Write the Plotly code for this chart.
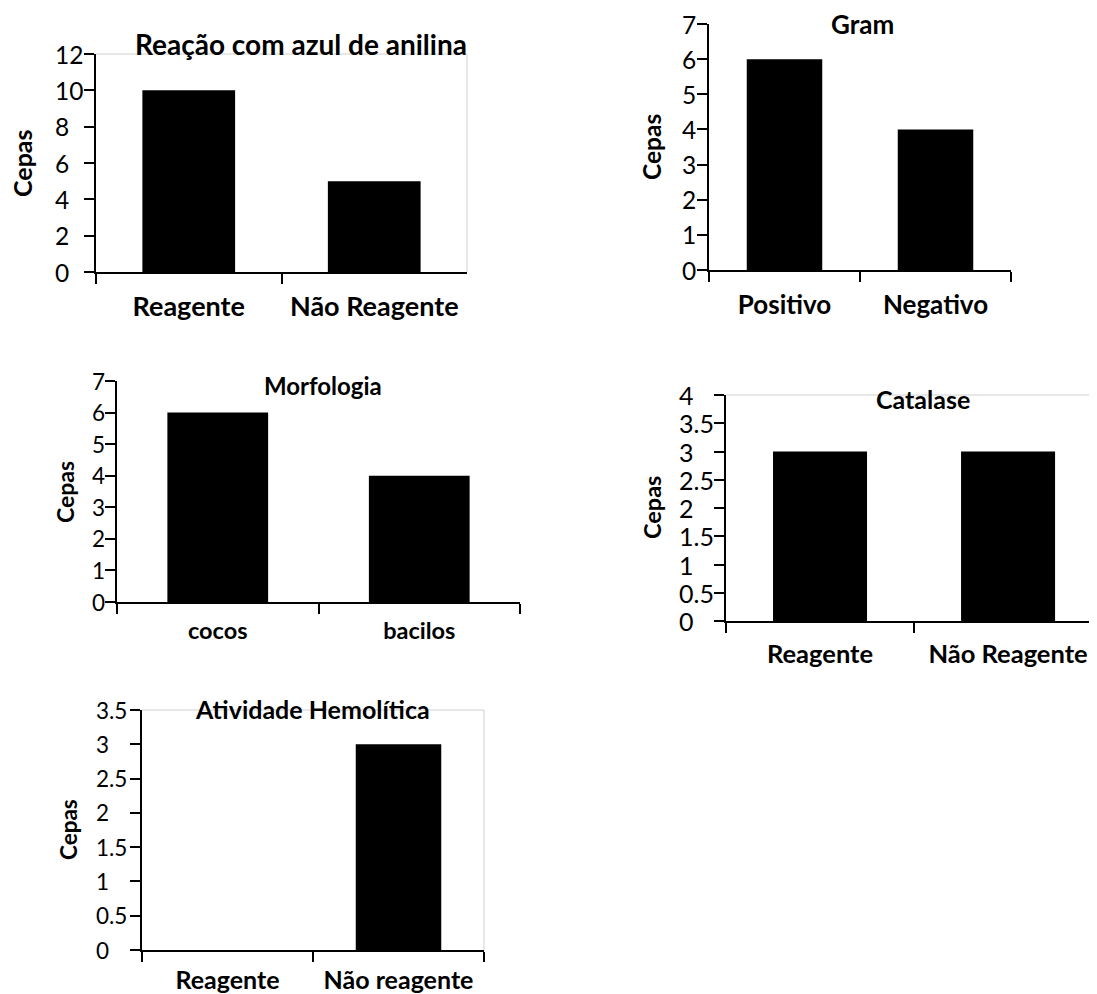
import plotly.graph_objects as go

# page body has an 8px margin; the figure fills the rest of the 1097x994 window
OFF = 8
W, H = 1097 - OFF, 994 - OFF

# ---- data ----
titles = ["Reação com azul de anilina", "Gram", "Morfologia", "Catalase", "Atividade Hemolítica"]
cat_anilina = ["Reagente", "Não Reagente"]
val_anilina = [10, 5]
ticks_anilina = [0, 2, 4, 6, 8, 10, 12]
cat_gram = ["Positivo", "Negativo"]
val_gram = [6, 4]
ticks_gram = [0, 1, 2, 3, 4, 5, 6, 7]
cat_morf = ["cocos", "bacilos"]
val_morf = [6, 4]
ticks_morf = [0, 1, 2, 3, 4, 5, 6, 7]
cat_catalase = ["Reagente", "Não Reagente"]
val_catalase = [3, 3]
ticks_catalase = [0, 0.5, 1, 1.5, 2, 2.5, 3, 3.5, 4]
cat_hemo = ["Reagente", "Não reagente"]
val_hemo = [0, 3]
ticks_hemo = [0, 0.5, 1, 1.5, 2, 2.5, 3, 3.5]
y_title = "Cepas"

# ---- layout (window-pixel boxes: left, right, top, bottom) ----
panels = [
    dict(cats=cat_anilina, vals=val_anilina, ticks=ticks_anilina, box=(96, 467, 54, 272),
         xr=[-0.5, 1.5], title_xy=(301, 44), tsize=28, ytitle_xy=(22, 163), ytsize=25,
         lab_x=53, lsize=24.5, xsize=27, stand=10, grey=("top", "right")),
    dict(cats=cat_gram, vals=val_gram, ticks=ticks_gram, box=(709, 1011, 24, 270),
         xr=[-0.5, 1.5], title_xy=(862, 24), tsize=26, ytitle_xy=(652, 147), ytsize=24.5,
         lab_x=680, lsize=24.5, xsize=26, stand=11, grey=()),
    dict(cats=cat_morf, vals=val_morf, ticks=ticks_morf, box=(117, 520, 381, 602),
         xr=[-0.5, 1.5], title_xy=(323, 385), tsize=24, ytitle_xy=(65, 492), ytsize=23,
         lab_x=90, lsize=22.5, xsize=23.5, stand=7, grey=()),
    dict(cats=cat_catalase, vals=val_catalase, ticks=ticks_catalase, box=(726, 1097, 395, 621),
         xr=[-0.5, 1.473], title_xy=(923, 399), tsize=25, ytitle_xy=(652, 508), ytsize=23.5,
         lab_x=677, lsize=25, xsize=25.5, stand=10, grey=("top",)),
    dict(cats=cat_hemo, vals=val_hemo, ticks=ticks_hemo, box=(142, 484, 710, 950),
         xr=[-0.5, 1.5], title_xy=(312, 709), tsize=25, ytitle_xy=(68, 830), ytsize=22.5,
         lab_x=94, lsize=22.5, xsize=25, stand=7, grey=("top", "right")),
]

FONT = "Lato, 'Open Sans', sans-serif"


def px(x):
    return (x - OFF) / W


def py(y):
    return 1 - (y - OFF) / H


def fmt(v):
    return str(int(v)) if float(v).is_integer() else str(v)


fig = go.Figure()
annotations = []
shapes = []
for i, p in enumerate(panels, start=1):
    sfx = "" if i == 1 else str(i)
    xa, ya = "x" + sfx, "y" + sfx
    l, r, t, b = p["box"]
    fig.add_trace(go.Bar(x=p["cats"], y=p["vals"], xaxis=xa, yaxis=ya,
                         marker=dict(color="black", line=dict(width=0)),
                         width=0.5, showlegend=False, hoverinfo="skip"))
    fig.layout["xaxis" + sfx] = dict(
        domain=[max(0, px(l)), min(1, px(r))], anchor=ya, type="category", range=p["xr"],
        automargin=False,
        showline=True, linecolor="black", linewidth=1.6,
        ticks="outside", tickson="boundaries", ticklen=10, tickwidth=1.6, tickcolor="black",
        tickfont=dict(family=FONT, size=p["xsize"], color="black", weight="bold"),
        ticklabelstandoff=p["stand"], showgrid=False, zeroline=False, fixedrange=True)
    fig.layout["yaxis" + sfx] = dict(
        domain=[py(b), py(t)], anchor=xa, range=[p["ticks"][0], p["ticks"][-1]],
        tickmode="array", tickvals=p["ticks"], showticklabels=False,
        automargin=False,
        showline=True, linecolor="black", linewidth=1.6,
        ticks="outside", ticklen=10, tickwidth=1.6, tickcolor="black",
        showgrid=False, zeroline=False, fixedrange=True)
    # left-aligned tick labels, positioned by the y axis scale
    for v in p["ticks"]:
        annotations.append(dict(text=fmt(v), x=px(p["lab_x"]), y=v, xref="paper", yref=ya,
                                xanchor="left", yanchor="middle", showarrow=False,
                                font=dict(family=FONT, size=p["lsize"], color="black")))
    tx, ty = p["title_xy"]
    annotations.append(dict(text=titles[i - 1], x=px(tx), y=py(ty), xref="paper", yref="paper",
                            xanchor="center", yanchor="middle", showarrow=False,
                            font=dict(family=FONT, size=p["tsize"], color="black", weight="bold")))
    cx, cy = p["ytitle_xy"]
    annotations.append(dict(text=y_title, x=px(cx), y=py(cy), xref="paper", yref="paper",
                            xanchor="center", yanchor="middle", showarrow=False, textangle=-90,
                            font=dict(family=FONT, size=p["ytsize"], color="black", weight="bold")))
    grey = dict(color="#d0d0d0", width=1)
    if "top" in p["grey"]:
        shapes.append(dict(type="line", xref=xa + " domain", yref=ya + " domain",
                           x0=0, x1=1, y0=1, y1=1, line=grey, layer="below"))
    if "right" in p["grey"]:
        shapes.append(dict(type="line", xref=xa + " domain", yref=ya + " domain",
                           x0=1, x1=1, y0=0, y1=1, line=grey, layer="below"))

fig.update_layout(template="none", width=W, height=H, margin=dict(l=0, r=0, t=0, b=0, pad=0),
                  plot_bgcolor="white", paper_bgcolor="white", bargap=0.5,
                  annotations=annotations, shapes=shapes,
                  font=dict(family=FONT, color="black"))
fig.write_html("out.html")
